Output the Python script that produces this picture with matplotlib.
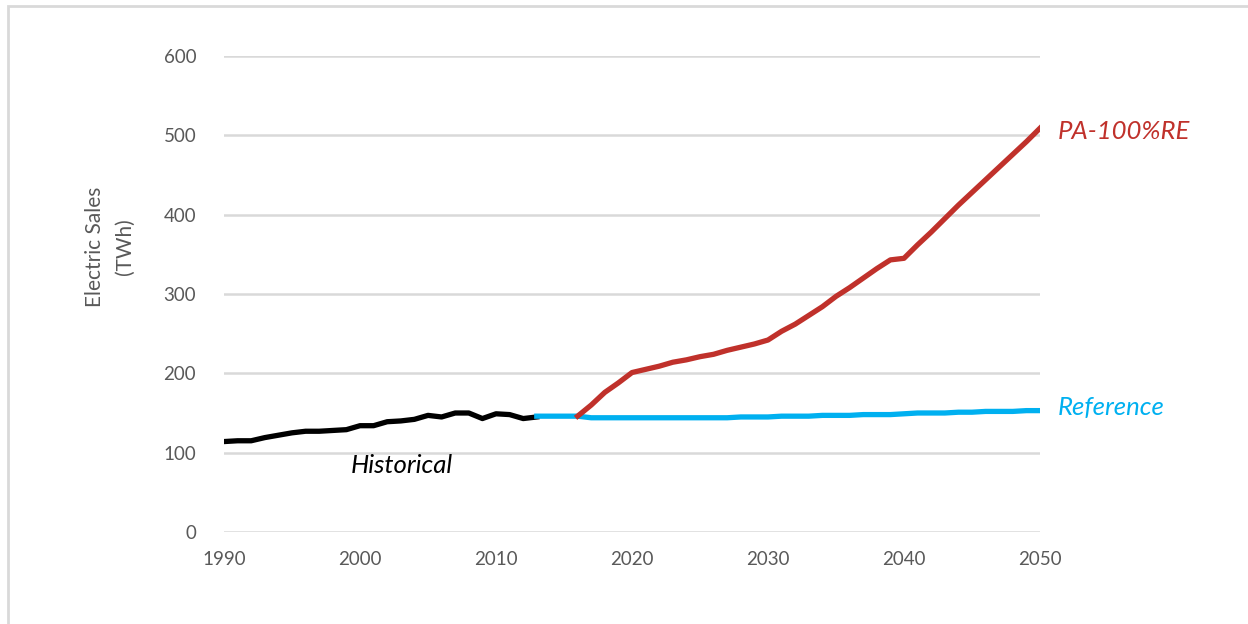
import matplotlib.pyplot as plt
from matplotlib.patches import Rectangle

# data (TWh)
hist_years = list(range(1990, 2014))
hist_sales = [114, 115, 115, 119, 122, 125, 127, 127, 128, 129, 134, 134,
              139, 140, 142, 147, 145, 150, 150, 143, 149, 148, 143, 145]

ref_years = list(range(2013, 2051))
ref_sales = [146, 146, 146, 146, 144, 144, 144, 144, 144, 144, 144, 144, 144,
             144, 144, 145, 145, 145, 146, 146, 146, 147, 147, 147, 148, 148,
             148, 149, 150, 150, 150, 151, 151, 152, 152, 152, 153, 153]

re_years = list(range(2016, 2051))
re_sales = [146, 160, 176, 188, 201, 205, 209, 214, 217, 221, 224, 229, 233,
            237, 242, 253, 262, 273, 284, 297, 308, 320, 332, 343, 345, 362,
            378, 395, 412, 428, 444, 460, 476, 492, 509]

plt.rcParams['font.family'] = ['Lato', 'DejaVu Sans']

fig = plt.figure(figsize=(12.48, 6.24), dpi=100)
ax = fig.add_axes([224 / 1248, 1 - 532 / 624, 816 / 1248, 476 / 624])

# outer frame like the screenshot
fig.patches.append(Rectangle((8 / 1248, -0.1), 1.2, (624 - 6) / 624 + 0.1,
                             transform=fig.transFigure, fill=False,
                             edgecolor='#D9D9D9', linewidth=2))

ax.plot(hist_years, hist_sales, color='black', linewidth=3.8, zorder=3)
ax.plot(ref_years, ref_sales, color='#00B0F0', linewidth=3.8, zorder=3)
ax.plot(re_years, re_sales, color='#C0312B', linewidth=3.8, zorder=4)

ax.set_xlim(1990, 2050)
ax.set_ylim(0, 600)
ax.set_xticks(range(1990, 2051, 10))
ax.set_yticks(range(0, 601, 100))
ax.grid(axis='y', color='#D9D9D9', linewidth=1.8)
ax.set_axisbelow(True)
for s in ax.spines.values():
    s.set_visible(False)
ax.tick_params(length=0, labelsize=13.5, labelcolor='#595959')
ax.tick_params(axis='x', pad=14)
ax.tick_params(axis='y', pad=20)

ax.set_ylabel('Electric Sales\n(TWh)', fontsize=15, color='#595959',
              linespacing=1.6)
ax.yaxis.set_label_coords(-0.109, 0.60)

ax.text(2051.3, 505, 'PA-100%RE', color='#C0312B', fontsize=18.5,
        style='italic', va='center', ha='left', clip_on=False)
ax.text(2051.3, 157, 'Reference', color='#00B0F0', fontsize=18.5,
        style='italic', va='center', ha='left', clip_on=False)
ax.text(1999.3, 84, 'Historical', color='black', fontsize=18.5,
        style='italic', va='center', ha='left')

fig.savefig('out.png', dpi=100)
